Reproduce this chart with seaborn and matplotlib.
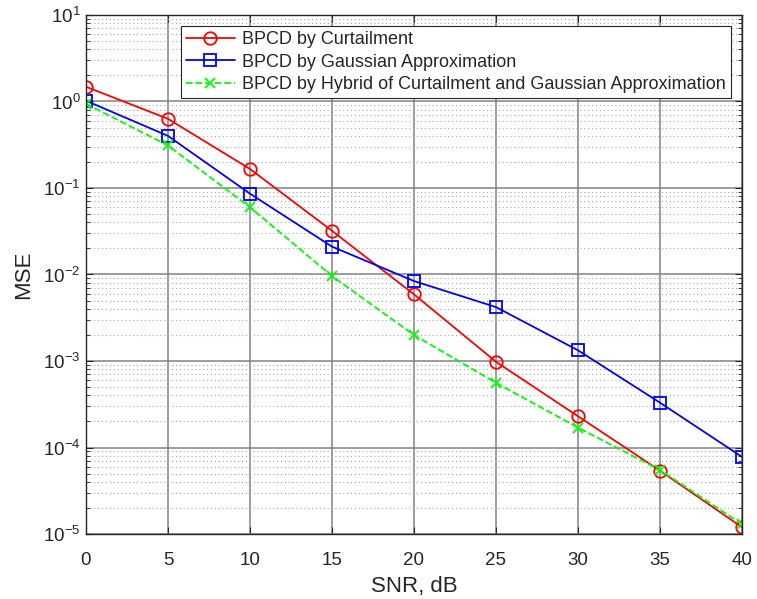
import numpy as np
import pandas as pd
import matplotlib
matplotlib.use("Agg")
import matplotlib.pyplot as plt
import matplotlib.ticker as mticker
import seaborn as sns

# --- data ---
snr_db = [0, 5, 10, 15, 20, 25, 30, 35, 40]
mse_curtailment = [1.48, 0.63, 0.166, 0.032, 0.0059, 0.00098, 2.3e-4, 5.4e-5, 1.2e-5]
mse_gaussian = [1.02, 0.40, 0.086, 0.021, 0.0084, 0.0042, 1.33e-3, 3.3e-4, 7.8e-5]
mse_hybrid = [0.94, 0.31, 0.060, 0.0096, 0.0020, 5.6e-4, 1.7e-4, 5.5e-5, 1.3e-5]
series_names = [
    "BPCD by Curtailment",
    "BPCD by Gaussian Approximation",
    "BPCD by Hybrid of Curtailment and Gaussian Approximation",
]

df = pd.DataFrame({
    "SNR": snr_db * 3,
    "MSE": mse_curtailment + mse_gaussian + mse_hybrid,
    "Method": [n for n in series_names for _ in snr_db],
})

sns.set_style("ticks")
plt.rcParams["font.family"] = ["Liberation Sans", "DejaVu Sans"]
plt.rcParams["axes.unicode_minus"] = False
plt.rcParams["mathtext.fontset"] = "custom"
plt.rcParams["mathtext.rm"] = "Liberation Sans"

fig = plt.figure(figsize=(7.57, 5.99), dpi=100)
ax = fig.add_axes([0.1136, 0.1085, 0.8665, 0.8665])

colors = ["#ff0000", "#0000ff", "#00ff00"]
markers = ["o", "s", "x"]
sizes = [9, 8, 7]
dashes = ["-", "-", "--"]
for name, c, m, ms, ls in zip(series_names, colors, markers, sizes, dashes):
    sub = df[df["Method"] == name]
    sns.lineplot(data=sub, x="SNR", y="MSE", ax=ax, color=c, marker=m,
                 markersize=ms, markerfacecolor="none", markeredgecolor=c,
                 markeredgewidth=1.3, linestyle=ls, linewidth=1.3, label=name)

ax.set_yscale("log")
ax.set_xlim(0, 40)
ax.set_ylim(1e-5, 1e1)
ax.set_xticks(snr_db)
ax.yaxis.set_major_locator(mticker.LogLocator(base=10, numticks=10))
ax.yaxis.set_minor_locator(mticker.LogLocator(base=10, subs=np.arange(2, 10), numticks=100))
ax.yaxis.set_minor_formatter(mticker.NullFormatter())

ax.grid(True, which="major", color="#808080", linestyle="-", linewidth=1.2, alpha=0.9)
ax.grid(True, which="minor", axis="y", color="#a8a8a8", linestyle=(0, (1, 2.5)), linewidth=0.8)
ax.set_axisbelow(True)

for s in ax.spines.values():
    s.set_color("#262626")
    s.set_linewidth(1.0)
ax.tick_params(which="both", direction="in", top=True, right=True, colors="#262626",
               labelsize=13.5, labelcolor="#262626")
ax.tick_params(which="major", length=5)
ax.tick_params(which="minor", length=3)
ax.tick_params(axis="x", which="major", pad=13)
ax.tick_params(axis="y", which="major", pad=4)

ax.set_xlabel("SNR, dB", fontsize=16, color="#262626", labelpad=5)
ax.set_ylabel("MSE", fontsize=16, color="#262626", labelpad=6)

leg = ax.legend(loc="upper right", fontsize=13, frameon=True, fancybox=False,
                edgecolor="#262626", framealpha=1, handlelength=2.7,
                borderaxespad=0.6, labelspacing=0.3, borderpad=0.3, handletextpad=0.4)
leg.get_frame().set_linewidth(0.8)

fig.savefig("out.png", dpi=100)
